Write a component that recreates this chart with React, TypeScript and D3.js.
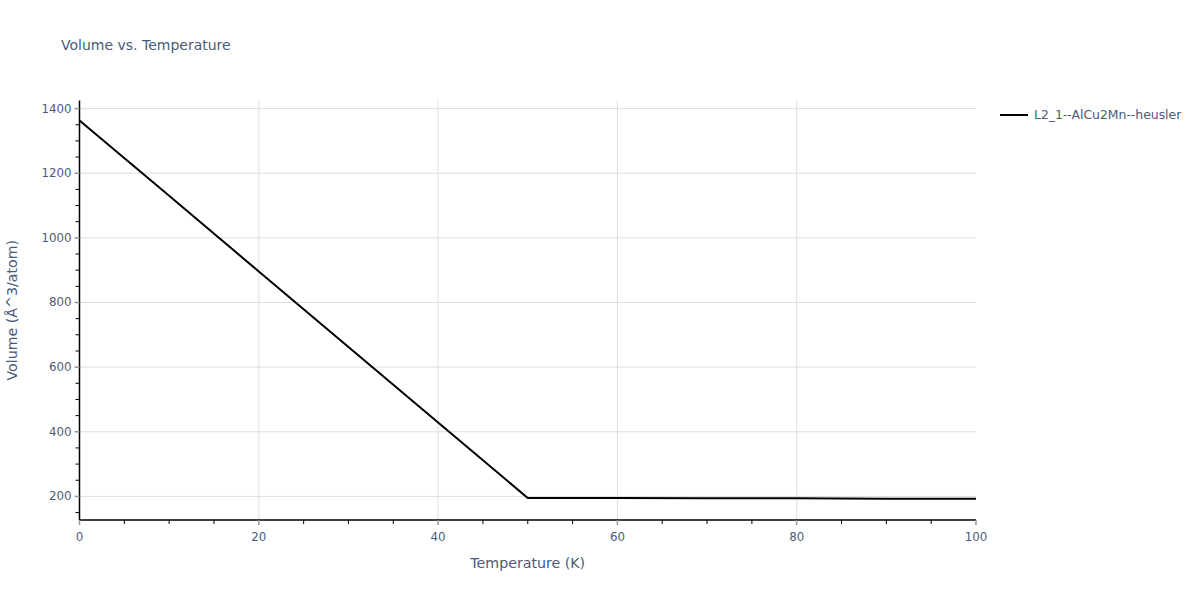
import * as d3 from "d3";

const temperatures = [0, 10, 20, 30, 40, 50, 60, 70, 80, 90, 100];
const volumes = [1363, 1130, 896, 662, 429, 195, 195, 194, 194, 193, 193];
const seriesName = "L2_1--AlCu2Mn--heusler";
const xTicks = [0, 20, 40, 60, 80, 100];
const yTicks = [200, 400, 600, 800, 1000, 1200, 1400];

const W = 1200;
const H = 600;
const left = 79.5;
const right = 976;
const top = 100.5;
const bottom = 520;

const FONT = '"DejaVu Sans", Verdana, sans-serif';
const TEXT = "#4a5b78";
const GRID = "#dedede";

export default function App() {
  const x = d3.scaleLinear().domain([0, 100]).range([left, right]);
  const y = d3.scaleLinear().domain([127, 1425]).range([bottom, top]);

  const pts = temperatures.map((t, i) => [t, volumes[i]] as [number, number]);
  const line = d3
    .line<[number, number]>()
    .x((d) => x(d[0]))
    .y((d) => y(d[1]));

  const xMinor = d3.range(0, 101, 5).filter((v) => v % 20 !== 0);
  const yMinor = d3.range(150, 1425, 50).filter((v) => v % 200 !== 0);

  return (
    <svg
      width={W}
      height={H}
      style={{ position: "absolute", left: 0, top: 0, background: "#fff" }}
      fontFamily={FONT}
    >
      <text x={61} y={50} fontSize={14} fill={TEXT}>
        Volume vs. Temperature
      </text>

      {/* grid */}
      {xTicks.slice(1, -1).map((t) => (
        <line key={"gx" + t} x1={x(t)} x2={x(t)} y1={top} y2={bottom} stroke={GRID} strokeWidth={1} />
      ))}
      {yTicks.map((t) => (
        <line key={"gy" + t} x1={left} x2={right} y1={y(t)} y2={y(t)} stroke={GRID} strokeWidth={1} />
      ))}

      {/* data */}
      <path d={line(pts) ?? ""} fill="none" stroke="#000" strokeWidth={2} />

      {/* axes */}
      <line x1={left} x2={left} y1={top} y2={bottom} stroke="#000" strokeWidth={1.5} />
      <line x1={left} x2={right} y1={bottom} y2={bottom} stroke="#000" strokeWidth={1.5} />

      {xMinor.map((t) => (
        <line key={"xm" + t} x1={x(t)} x2={x(t)} y1={bottom} y2={bottom + 4} stroke="#000" strokeWidth={1} />
      ))}
      {yMinor.map((t) => (
        <line key={"ym" + t} x1={left - 4} x2={left} y1={y(t)} y2={y(t)} stroke="#000" strokeWidth={1} />
      ))}
      {xTicks.map((t) => (
        <g key={"xt" + t}>
          <line x1={x(t)} x2={x(t)} y1={bottom} y2={bottom + 5} stroke="#999" strokeWidth={1.5} />
          <text x={x(t)} y={bottom + 21} textAnchor="middle" fontSize={11.8} fill={TEXT}>
            {t}
          </text>
        </g>
      ))}
      {yTicks.map((t) => (
        <g key={"yt" + t}>
          <line x1={left - 5} x2={left} y1={y(t)} y2={y(t)} stroke="#999" strokeWidth={1.5} />
          <text x={left - 8} y={y(t) + 4} textAnchor="end" fontSize={11.8} fill={TEXT}>
            {t}
          </text>
        </g>
      ))}

      <text x={(left + right) / 2} y={568} textAnchor="middle" fontSize={14.2} fill={TEXT}>
        Temperature (K)
      </text>
      <text
        transform={`translate(17,${(top + bottom) / 2}) rotate(-90)`}
        textAnchor="middle"
        fontSize={14.2}
        fill={TEXT}
      >
        Volume (Å^3/atom)
      </text>

      {/* legend */}
      <line x1={1000} x2={1028} y1={115} y2={115} stroke="#000" strokeWidth={2} />
      <text x={1034} y={119} fontSize={12.4} fill={TEXT}>
        {seriesName}
      </text>
    </svg>
  );
}
